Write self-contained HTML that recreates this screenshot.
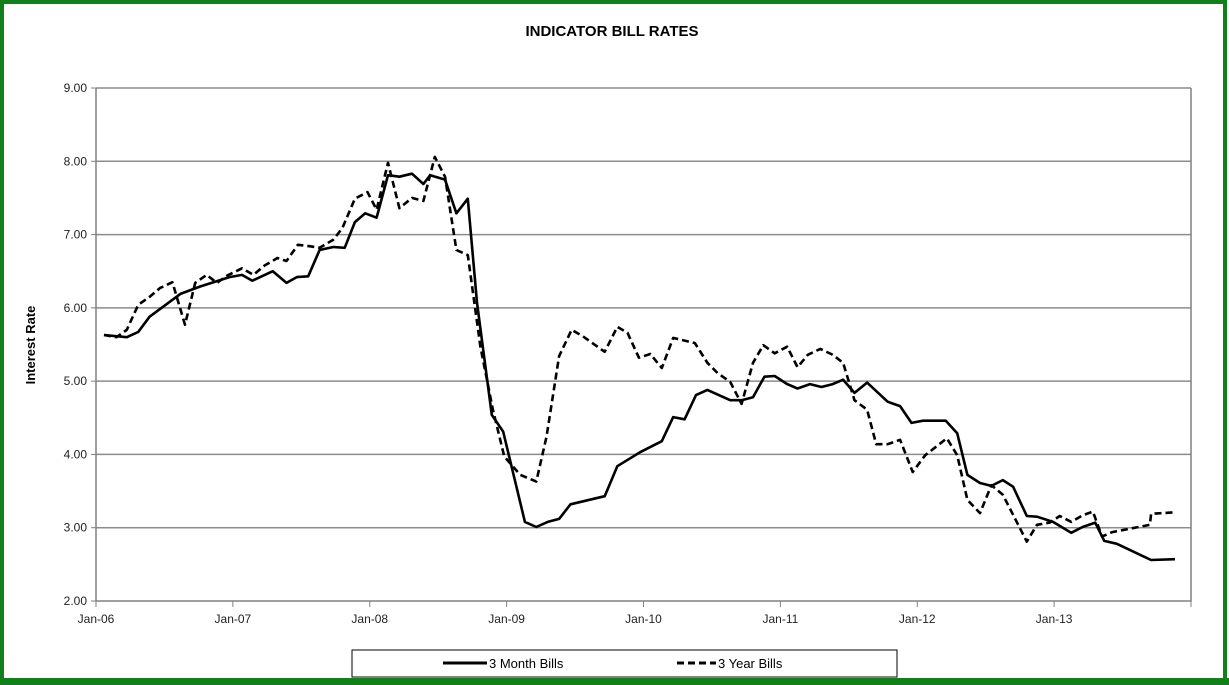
<!DOCTYPE html>
<html><head><meta charset="utf-8"><style>
body{margin:0;background:#fff}
svg{display:block;font-family:"Liberation Sans",sans-serif}
</style></head><body>
<svg width="1229" height="685" viewBox="0 0 1229 685">
<rect x="2" y="2" width="1223" height="678" fill="#fff" stroke="#12801a" stroke-width="4"/>
<rect x="0" y="678" width="1229" height="7" fill="#12801a"/>
<text x="612" y="36" text-anchor="middle" font-size="15" font-weight="bold">INDICATOR BILL RATES</text>
<text transform="translate(35,345) rotate(-90)" text-anchor="middle" font-size="13" font-weight="bold">Interest Rate</text>
<g id="grid"></g><g id="axes"></g><g id="series"></g>
<g>
<rect x="352" y="650" width="545" height="27" fill="#fff" stroke="#000" stroke-width="1"/>
<line x1="443" y1="663" x2="487" y2="663" stroke="#000" stroke-width="3"/>
<text x="489" y="668" font-size="13">3 Month Bills</text>
<line x1="677" y1="663" x2="716" y2="663" stroke="#000" stroke-width="3" stroke-dasharray="7,4"/>
<text x="718" y="668" font-size="13">3 Year Bills</text>
</g>
</svg>
<script>
const yTicks=[2,3,4,5,6,7,8,9];
const xLabels=["Jan-06","Jan-07","Jan-08","Jan-09","Jan-10","Jan-11","Jan-12","Jan-13"];
const shortMonths=[0.7,2.7,3.7,4.7,7.4,9.1,11.7,12.8,13.7,15.5,16.7,17.6,18.6,19.6,20.8,21.8,22.7,23.6,24.6,25.6,26.6,27.7,28.7,29.3,30.6,31.6,32.6,33.4,34.7,35.7,37.6,38.6,39.6,40.6,41.6,44.6,45.7,47.7,49.6,50.6,51.6,52.6,53.6,55.6,56.6,57.6,58.6,59.5,60.6,61.5,62.6,63.6,64.6,65.5,66.5,67.6,68.5,69.4,70.5,71.5,72.5,74.5,75.5,76.4,77.5,78.5,79.5,80.4,81.6,82.5,83.9,85.5,86.5,87.6,88.4,89.5,92.5,94.6];
const shortRates=[5.63,5.60,5.67,5.88,6.19,6.29,6.42,6.45,6.37,6.50,6.34,6.42,6.43,6.79,6.83,6.82,7.17,7.29,7.23,7.81,7.79,7.83,7.69,7.81,7.75,7.29,7.49,6.07,4.54,4.31,3.08,3.01,3.08,3.12,3.32,3.43,3.84,4.03,4.18,4.51,4.48,4.81,4.88,4.74,4.74,4.78,5.06,5.07,4.96,4.90,4.96,4.92,4.96,5.02,4.84,4.98,4.85,4.72,4.66,4.43,4.46,4.46,4.29,3.72,3.61,3.57,3.65,3.56,3.16,3.15,3.08,2.93,3.01,3.07,2.82,2.78,2.56,2.57];
const longMonths=[0.7,1.8,2.7,3.7,4.7,5.6,6.7,7.8,8.7,9.7,10.6,11.5,12.8,13.8,14.8,15.9,16.7,17.7,18.8,19.6,20.8,21.6,22.7,23.8,24.6,25.6,26.6,27.7,28.7,29.7,30.6,31.6,32.6,33.7,34.8,35.8,37.2,38.6,39.5,40.6,41.7,42.7,44.6,45.7,46.6,47.6,48.6,49.6,50.6,52.5,53.6,54.5,55.6,56.6,57.6,58.5,59.5,60.6,61.5,62.4,63.5,64.6,65.5,66.5,67.6,68.4,69.4,70.5,71.6,72.7,74.6,75.5,76.4,77.5,78.5,79.5,81.6,82.5,83.6,84.5,85.5,86.5,87.4,88.2,89.1,92.4,92.5,94.6];
const longRates=[5.63,5.60,5.70,6.04,6.15,6.27,6.35,5.77,6.34,6.45,6.34,6.44,6.54,6.45,6.58,6.68,6.64,6.86,6.84,6.82,6.93,7.09,7.49,7.58,7.34,7.98,7.36,7.50,7.46,8.06,7.79,6.79,6.72,5.47,4.61,3.97,3.72,3.63,4.24,5.34,5.70,5.61,5.40,5.74,5.66,5.32,5.37,5.18,5.59,5.52,5.25,5.11,4.99,4.69,5.25,5.49,5.38,5.47,5.19,5.36,5.44,5.36,5.25,4.74,4.61,4.14,4.14,4.20,3.76,3.99,4.22,3.99,3.38,3.20,3.58,3.45,2.81,3.04,3.07,3.16,3.08,3.17,3.22,2.88,2.94,3.04,3.19,3.21];
const L=96,R=1191,T=88,B=601,totalMonths=96;
const xs=m=>L+(R-L)*m/totalMonths;
const ys=v=>B-(B-T)*(v-2)/7;
const NS="http://www.w3.org/2000/svg";
function mk(tag,attrs,parent){const e=document.createElementNS(NS,tag);for(const k in attrs)e.setAttribute(k,attrs[k]);parent.appendChild(e);return e;}
const grid=document.getElementById('grid'),axes=document.getElementById('axes'),series=document.getElementById('series');
yTicks.forEach(v=>{
  if(v>2){const g=mk('line',{x1:L,x2:R,y1:ys(v),y2:ys(v),stroke:'#8c8c8c','stroke-width':1.5},grid);
  
  }
  const t=mk('line',{x1:L-5,x2:L,y1:ys(v),y2:ys(v),stroke:'#808080'},axes);
  
  
  const lb=mk('text',{x:L-9,y:ys(v)+4,'text-anchor':'end','font-size':12,fill:'#222'},axes);
  lb.textContent=v.toFixed(2);
  
  
});
const ax=mk('path',{d:`M${L},${T}V${B}H${R}V${T}`,fill:'none',stroke:'#808080','stroke-width':1.5},axes);


for(let i=0;i<=8;i++){
  const x=xs(i*12);
  const t=mk('line',{x1:x,x2:x,y1:B,y2:B+6,stroke:'#808080'},axes);
  
  
  if(i<xLabels.length){
    const lb=mk('text',{x:x,y:B+22,'text-anchor':'middle','font-size':12,fill:'#222'},axes);
    lb.textContent=xLabels[i];
    
    
  }
}
function line(ms,vs,dash,name){
  const d=ms.map((m,i)=>(i?'L':'M')+xs(m).toFixed(1)+','+ys(vs[i]).toFixed(1)).join('');
  const p=mk('path',{d:d,fill:'none',stroke:'#000','stroke-width':2.6,'stroke-linejoin':'round'},series);
  if(dash)p.setAttribute('stroke-dasharray',dash);
  
  
}
line(longMonths,longRates,'7,4','series-3-year-bills');
line(shortMonths,shortRates,null,'series-3-month-bills');
</script>
</body></html>
